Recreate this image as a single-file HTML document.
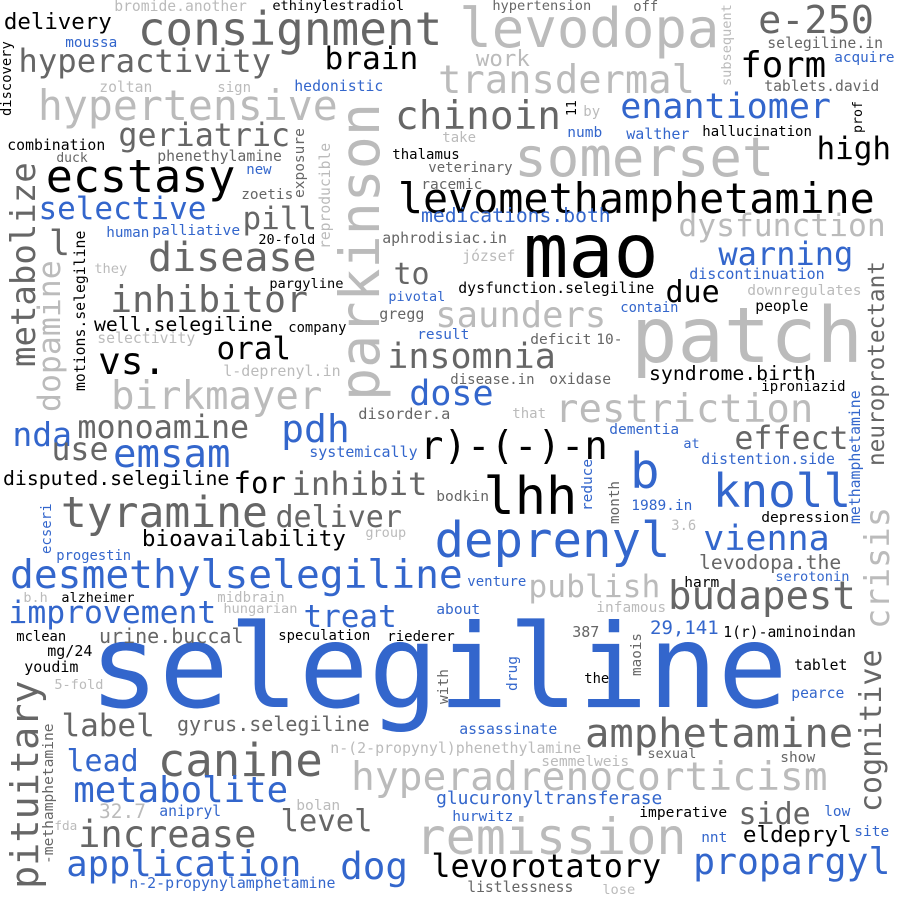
<!DOCTYPE html>
<html><head><meta charset="utf-8"><style>
html,body{margin:0;padding:0;background:#fff}
#c{position:relative;width:900px;height:900px;overflow:hidden;background:#fff;font-family:"DejaVu Sans Mono","Liberation Mono",monospace}
#c span{position:absolute;line-height:1;white-space:nowrap}
.K{color:#000}.D{color:#666}.L{color:#bbb}.B{color:#3366cc}
.v{transform-origin:0 0;transform:rotate(-90deg)}
</style></head><body><div id="c">
<span class="B" style="left:calc(95px - .05em);top:calc(708px - .846em);font-size:116px">selegiline</span>
<span class="L" style="left:calc(635px - .05em);top:calc(363px - .846em);font-size:77px">patch</span>
<span class="K" style="left:calc(527px - .05em);top:calc(277px - .846em);font-size:75px">mao</span>
<span class="B" style="left:calc(437px - .05em);top:calc(557px - .846em);font-size:49px">deprenyl</span>
<span class="L" style="left:calc(462px - .05em);top:calc(48px - .846em);font-size:54px">levodopa</span>
<span class="L" style="left:calc(517px - .05em);top:calc(177px - .846em);font-size:54px">somerset</span>
<span class="D" style="left:calc(140px - .05em);top:calc(45px - .846em);font-size:46px">consignment</span>
<span class="K" style="left:calc(400px - .05em);top:calc(213px - .846em);font-size:41.7px">levomethamphetamine</span>
<span class="L" style="left:calc(418px - .05em);top:calc(854px - .846em);font-size:50px">remission</span>
<span class="L" style="left:calc(353px - .05em);top:calc(792px - .846em);font-size:39.6px">hyperadrenocorticism</span>
<span class="B" style="left:calc(12px - .05em);top:calc(590px - .846em);font-size:39.6px">desmethylselegiline</span>
<span class="D" style="left:calc(63px - .05em);top:calc(528px - .846em);font-size:43px">tyramine</span>
<span class="D" style="left:calc(160px - .05em);top:calc(777px - .846em);font-size:45.7px">canine</span>
<span class="D" style="left:calc(587px - .05em);top:calc(747px - .846em);font-size:40.5px">amphetamine</span>
<span class="B" style="left:calc(68px - .05em);top:calc(877px - .846em);font-size:35.5px">application</span>
<span class="D" style="left:calc(80px - .05em);top:calc(847px - .846em);font-size:37px">increase</span>
<span class="B" style="left:calc(75px - .05em);top:calc(803px - .846em);font-size:35.7px">metabolite</span>
<span class="B" style="left:calc(342px - .05em);top:calc(880px - .846em);font-size:37.6px">dog</span>
<span class="K" style="left:calc(433px - .05em);top:calc(878px - .846em);font-size:31.8px">levorotatory</span>
<span class="B" style="left:calc(695px - .05em);top:calc(875px - .846em);font-size:36.4px">propargyl</span>
<span class="K" style="left:calc(744px - .05em);top:calc(843px - .846em);font-size:22.6px">eldepryl</span>
<span class="D" style="left:calc(740px - .05em);top:calc(825px - .846em);font-size:30px">side</span>
<span class="D" style="left:calc(282px - .05em);top:calc(833px - .846em);font-size:30.6px">level</span>
<span class="B" style="left:calc(68px - .05em);top:calc(772px - .846em);font-size:30px">lead</span>
<span class="D" style="left:calc(63px - .05em);top:calc(737px - .846em);font-size:31px">label</span>
<span class="D" style="left:calc(178px - .05em);top:calc(731px - .846em);font-size:20px">gyrus.selegiline</span>
<span class="B" style="left:calc(10px - .05em);top:calc(625px - .846em);font-size:31.4px">improvement</span>
<span class="B" style="left:calc(305px - .05em);top:calc(628px - .846em);font-size:31px">treat</span>
<span class="D" style="left:calc(100px - .05em);top:calc(643px - .846em);font-size:20px">urine.buccal</span>
<span class="K" style="left:calc(279px - .05em);top:calc(642px - .846em);font-size:13.9px">speculation</span>
<span class="K" style="left:calc(388px - .05em);top:calc(642px - .846em);font-size:14px">riederer</span>
<span class="K" style="left:calc(17px - .05em);top:calc(643px - .846em);font-size:13.8px">mclean</span>
<span class="K" style="left:calc(48px - .05em);top:calc(657px - .846em);font-size:15px">mg/24</span>
<span class="K" style="left:calc(25px - .05em);top:calc(673px - .846em);font-size:15px">youdim</span>
<span class="L" style="left:calc(55px - .05em);top:calc(691px - .846em);font-size:13.6px">5-fold</span>
<span class="L" style="left:calc(224px - .05em);top:calc(615px - .846em);font-size:13.7px">hungarian</span>
<span class="L" style="left:calc(331px - .05em);top:calc(754px - .846em);font-size:14.9px">n-(2-propynyl)phenethylamine</span>
<span class="L" style="left:calc(297px - .05em);top:calc(811px - .846em);font-size:14.6px">bolan</span>
<span class="L" style="left:calc(100px - .05em);top:calc(818px - .846em);font-size:19.5px">32.7</span>
<span class="B" style="left:calc(160px - .05em);top:calc(817px - .846em);font-size:14.7px">anipryl</span>
<span class="L" style="left:calc(55px - .05em);top:calc(831px - .846em);font-size:12.7px">fda</span>
<span class="B" style="left:calc(130px - .05em);top:calc(889px - .846em);font-size:14.9px">n-2-propynylamphetamine</span>
<span class="B" style="left:calc(437px - .05em);top:calc(805px - .846em);font-size:17.9px">glucuronyltransferase</span>
<span class="B" style="left:calc(453px - .05em);top:calc(822px - .846em);font-size:14.5px">hurwitz</span>
<span class="K" style="left:calc(640px - .05em);top:calc(818px - .846em);font-size:14.6px">imperative</span>
<span class="B" style="left:calc(702px - .05em);top:calc(843px - .846em);font-size:14.4px">nnt</span>
<span class="B" style="left:calc(825px - .05em);top:calc(817px - .846em);font-size:14.4px">low</span>
<span class="B" style="left:calc(855px - .05em);top:calc(837px - .846em);font-size:14.5px">site</span>
<span class="D" style="left:calc(468px - .05em);top:calc(893px - .846em);font-size:14.7px">listlessness</span>
<span class="L" style="left:calc(603px - .05em);top:calc(896px - .846em);font-size:13.7px">lose</span>
<span class="L" style="left:calc(542px - .05em);top:calc(767px - .846em);font-size:14.6px">semmelweis</span>
<span class="D" style="left:calc(648px - .05em);top:calc(760px - .846em);font-size:13.6px">sexual</span>
<span class="D" style="left:calc(781px - .05em);top:calc(763px - .846em);font-size:14.5px">show</span>
<span class="B" style="left:calc(460px - .05em);top:calc(736px - .846em);font-size:14.8px">assassinate</span>
<span class="B" style="left:calc(792px - .05em);top:calc(699px - .846em);font-size:14.7px">pearce</span>
<span class="K" style="left:calc(795px - .05em);top:calc(671px - .846em);font-size:14.7px">tablet</span>
<span class="K" style="left:calc(585px - .05em);top:calc(685px - .846em);font-size:13.8px">the</span>
<span class="D" style="left:calc(573px - .05em);top:calc(638px - .846em);font-size:15px">387</span>
<span class="B" style="left:calc(651px - .05em);top:calc(635px - .846em);font-size:19px">29,141</span>
<span class="K" style="left:calc(724px - .05em);top:calc(638px - .846em);font-size:14.7px">1(r)-aminoindan</span>
<span class="L" style="left:calc(597px - .05em);top:calc(613px - .846em);font-size:14.5px">infamous</span>
<span class="D" style="left:calc(670px - .05em);top:calc(610px - .846em);font-size:39px">budapest</span>
<span class="B" style="left:calc(437px - .05em);top:calc(615px - .846em);font-size:14.6px">about</span>
<span class="D" style="left:calc(700px - .05em);top:calc(570px - .846em);font-size:19.7px">levodopa.the</span>
<span class="B" style="left:calc(776px - .05em);top:calc(583px - .846em);font-size:13.7px">serotonin</span>
<span class="K" style="left:calc(685px - .05em);top:calc(588px - .846em);font-size:14.5px">harm</span>
<span class="L" style="left:calc(530px - .05em);top:calc(598px - .846em);font-size:31.3px">publish</span>
<span class="B" style="left:calc(468px - .05em);top:calc(587px - .846em);font-size:14px">venture</span>
<span class="B" style="left:calc(705px - .05em);top:calc(552px - .846em);font-size:35px">vienna</span>
<span class="K" style="left:calc(762px - .05em);top:calc(523px - .846em);font-size:14.6px">depression</span>
<span class="L" style="left:calc(672px - .05em);top:calc(532px - .846em);font-size:13.8px">3.6</span>
<span class="B" style="left:calc(632px - .05em);top:calc(511px - .846em);font-size:14.5px">1989.in</span>
<span class="B" style="left:calc(715px - .05em);top:calc(507px - .846em);font-size:46px">knoll</span>
<span class="B" style="left:calc(630px);top:calc(488px - .846em);font-size:49px">b</span>
<span class="B" style="left:calc(702px - .05em);top:calc(466px - .846em);font-size:14.8px">distention.side</span>
<span class="B" style="left:calc(684px - .05em);top:calc(449px - .846em);font-size:13.5px">at</span>
<span class="B" style="left:calc(610px - .05em);top:calc(435px - .846em);font-size:14.5px">dementia</span>
<span class="D" style="left:calc(736px - .05em);top:calc(451px - .846em);font-size:31.6px">effect</span>
<span class="L" style="left:calc(557px - .05em);top:calc(423px - .846em);font-size:39px">restriction</span>
<span class="L" style="left:calc(513px - .05em);top:calc(419px - .846em);font-size:14px">that</span>
<span class="K" style="left:calc(422px - .05em);top:calc(460px - .846em);font-size:39px">r)-(-)-n</span>
<span class="K" style="left:calc(486px - .05em);top:calc(515px - .846em);font-size:52px">lhh</span>
<span class="D" style="left:calc(437px - .05em);top:calc(502px - .846em);font-size:14.6px">bodkin</span>
<span class="L" style="left:calc(366px - .05em);top:calc(539px - .846em);font-size:13.6px">group</span>
<span class="K" style="left:calc(762px - .05em);top:calc(392px - .846em);font-size:14px">iproniazid</span>
<span class="K" style="left:calc(650px - .05em);top:calc(381px - .846em);font-size:19.8px">syndrome.birth</span>
<span class="K" style="left:calc(756px - .05em);top:calc(312px - .846em);font-size:14.7px">people</span>
<span class="B" style="left:calc(621px - .05em);top:calc(314px - .846em);font-size:13.8px">contain</span>
<span class="L" style="left:calc(437px - .05em);top:calc(328px - .846em);font-size:35.5px">saunders</span>
<span class="D" style="left:calc(531px - .05em);top:calc(345px - .846em);font-size:14.5px">deficit</span>
<span class="D" style="left:calc(597px - .05em);top:calc(345px - .846em);font-size:14.5px">10-</span>
<span class="D" style="left:calc(389px - .05em);top:calc(370px - .846em);font-size:35px">insomnia</span>
<span class="D" style="left:calc(451px - .05em);top:calc(385px - .846em);font-size:14px">disease.in</span>
<span class="D" style="left:calc(550px - .05em);top:calc(385px - .846em);font-size:14.7px">oxidase</span>
<span class="B" style="left:calc(411px - .05em);top:calc(407px - .846em);font-size:35px">dose</span>
<span class="D" style="left:calc(359px - .05em);top:calc(420px - .846em);font-size:15.3px">disorder.a</span>
<span class="B" style="left:calc(418px - .05em);top:calc(340px - .846em);font-size:14.4px">result</span>
<span class="D" style="left:calc(380px - .05em);top:calc(320px - .846em);font-size:15px">gregg</span>
<span class="B" style="left:calc(389px - .05em);top:calc(302px - .846em);font-size:13.5px">pivotal</span>
<span class="D" style="left:calc(112px - .05em);top:calc(313px - .846em);font-size:36.5px">inhibitor</span>
<span class="K" style="left:calc(95px - .05em);top:calc(332px - .846em);font-size:19.8px">well.selegiline</span>
<span class="K" style="left:calc(289px - .05em);top:calc(334px - .846em);font-size:13.8px">company</span>
<span class="L" style="left:calc(98px - .05em);top:calc(345px - .846em);font-size:14.8px">selectivity</span>
<span class="K" style="left:calc(218px - .05em);top:calc(360px - .846em);font-size:31px">oral</span>
<span class="K" style="left:calc(100px - .05em);top:calc(375px - .846em);font-size:37.6px">vs.</span>
<span class="L" style="left:calc(224px - .05em);top:calc(377px - .846em);font-size:15px">l-deprenyl.in</span>
<span class="L" style="left:calc(113px - .05em);top:calc(410px - .846em);font-size:39px">birkmayer</span>
<span class="B" style="left:calc(14px - .05em);top:calc(446px - .846em);font-size:33px">nda</span>
<span class="D" style="left:calc(79px - .05em);top:calc(440px - .846em);font-size:31.7px">monoamine</span>
<span class="B" style="left:calc(283px - .05em);top:calc(442px - .846em);font-size:38px">pdh</span>
<span class="D" style="left:calc(53px - .05em);top:calc(462px - .846em);font-size:31.6px">use</span>
<span class="B" style="left:calc(115px - .05em);top:calc(468px - .846em);font-size:39px">emsam</span>
<span class="B" style="left:calc(310px - .05em);top:calc(458px - .846em);font-size:15px">systemically</span>
<span class="K" style="left:calc(4px - .05em);top:calc(486px - .846em);font-size:19.8px">disputed.selegiline</span>
<span class="K" style="left:calc(235px - .05em);top:calc(494px - .846em);font-size:29px">for</span>
<span class="D" style="left:calc(293px - .05em);top:calc(495px - .846em);font-size:32.3px">inhibit</span>
<span class="D" style="left:calc(277px - .05em);top:calc(528px - .846em);font-size:30px">deliver</span>
<span class="K" style="left:calc(143px - .05em);top:calc(547px - .846em);font-size:22.6px">bioavailability</span>
<span class="B" style="left:calc(57px - .05em);top:calc(562px - .846em);font-size:13.8px">progestin</span>
<span class="K" style="left:calc(62px - .05em);top:calc(603px - .846em);font-size:13.5px">alzheimer</span>
<span class="L" style="left:calc(24px - .05em);top:calc(603px - .846em);font-size:13.5px">b.h</span>
<span class="L" style="left:calc(218px - .05em);top:calc(603px - .846em);font-size:14px">midbrain</span>
<span class="L" style="left:calc(115px - .05em);top:calc(12px - .846em);font-size:14.7px">bromide.another</span>
<span class="K" style="left:calc(273px - .05em);top:calc(12px - .846em);font-size:13.7px">ethinylestradiol</span>
<span class="D" style="left:calc(493px - .05em);top:calc(12px - .846em);font-size:13.7px">hypertension</span>
<span class="D" style="left:calc(634px - .05em);top:calc(13px - .846em);font-size:13.8px">off</span>
<span class="K" style="left:calc(5px - .05em);top:calc(30px - .846em);font-size:22.4px">delivery</span>
<span class="B" style="left:calc(66px - .05em);top:calc(48px - .846em);font-size:14.4px">moussa</span>
<span class="D" style="left:calc(20px - .05em);top:calc(72px - .846em);font-size:32.3px">hyperactivity</span>
<span class="K" style="left:calc(326px - .05em);top:calc(70px - .846em);font-size:31.2px">brain</span>
<span class="D" style="left:calc(760px - .05em);top:calc(35px - .846em);font-size:38.5px">e-250</span>
<span class="D" style="left:calc(768px - .05em);top:calc(50px - .846em);font-size:14.8px">selegiline.in</span>
<span class="B" style="left:calc(835px - .05em);top:calc(63px - .846em);font-size:14.3px">acquire</span>
<span class="K" style="left:calc(742px - .05em);top:calc(78px - .846em);font-size:35.7px">form</span>
<span class="D" style="left:calc(765px - .05em);top:calc(92px - .846em);font-size:14.7px">tablets.david</span>
<span class="L" style="left:calc(477px - .05em);top:calc(67px - .846em);font-size:22.4px">work</span>
<span class="L" style="left:calc(440px - .05em);top:calc(95px - .846em);font-size:38.8px">transdermal</span>
<span class="L" style="left:calc(100px - .05em);top:calc(93px - .846em);font-size:14.7px">zoltan</span>
<span class="L" style="left:calc(218px - .05em);top:calc(93px - .846em);font-size:14px">sign</span>
<span class="B" style="left:calc(295px - .05em);top:calc(93px - .846em);font-size:14.8px">hedonistic</span>
<span class="L" style="left:calc(40px - .05em);top:calc(120px - .846em);font-size:41.5px">hypertensive</span>
<span class="D" style="left:calc(397px - .05em);top:calc(130px - .846em);font-size:39.4px">chinoin</span>
<span class="B" style="left:calc(622px - .05em);top:calc(120px - .846em);font-size:35px">enantiomer</span>
<span class="L" style="left:calc(584px - .05em);top:calc(117px - .846em);font-size:14px">by</span>
<span class="B" style="left:calc(568px - .05em);top:calc(138px - .846em);font-size:14.5px">numb</span>
<span class="B" style="left:calc(627px - .05em);top:calc(140px - .846em);font-size:15px">walther</span>
<span class="K" style="left:calc(703px - .05em);top:calc(137px - .846em);font-size:14px">hallucination</span>
<span class="K" style="left:calc(818px - .05em);top:calc(160px - .846em);font-size:31px">high</span>
<span class="L" style="left:calc(443px - .05em);top:calc(143px - .846em);font-size:14px">take</span>
<span class="K" style="left:calc(393px - .05em);top:calc(160px - .846em);font-size:14px">thalamus</span>
<span class="D" style="left:calc(429px - .05em);top:calc(173px - .846em);font-size:14px">veterinary</span>
<span class="D" style="left:calc(422px - .05em);top:calc(190px - .846em);font-size:14.5px">racemic</span>
<span class="D" style="left:calc(120px - .05em);top:calc(148px - .846em);font-size:31.7px">geriatric</span>
<span class="K" style="left:calc(8px - .05em);top:calc(152px - .846em);font-size:14.8px">combination</span>
<span class="D" style="left:calc(57px - .05em);top:calc(163px - .846em);font-size:13px">duck</span>
<span class="D" style="left:calc(158px - .05em);top:calc(163px - .846em);font-size:14.8px">phenethylamine</span>
<span class="K" style="left:calc(48px - .05em);top:calc(192px - .846em);font-size:45px">ecstasy</span>
<span class="B" style="left:calc(247px - .05em);top:calc(175px - .846em);font-size:14px">new</span>
<span class="D" style="left:calc(242px - .05em);top:calc(200px - .846em);font-size:14.4px">zoetis</span>
<span class="B" style="left:calc(40px - .05em);top:calc(220px - .846em);font-size:31px">selective</span>
<span class="D" style="left:calc(244px - .05em);top:calc(230px - .846em);font-size:31px">pill</span>
<span class="B" style="left:calc(107px - .05em);top:calc(238px - .846em);font-size:14.3px">human</span>
<span class="B" style="left:calc(153px - .05em);top:calc(236px - .846em);font-size:14.6px">palliative</span>
<span class="K" style="left:calc(259px - .05em);top:calc(245px - .846em);font-size:13.5px">20-fold</span>
<span class="B" style="left:calc(422px - .05em);top:calc(223px - .846em);font-size:19.7px">medications.both</span>
<span class="D" style="left:calc(383px - .05em);top:calc(245px - .846em);font-size:14.8px">aphrodisiac.in</span>
<span class="L" style="left:calc(680px - .05em);top:calc(237px - .846em);font-size:31.3px">dysfunction</span>
<span class="L" style="left:calc(463px - .05em);top:calc(262px - .846em);font-size:14.7px">józsef</span>
<span class="B" style="left:calc(720px - .05em);top:calc(265px - .846em);font-size:32px">warning</span>
<span class="B" style="left:calc(690px - .05em);top:calc(280px - .846em);font-size:15px">discontinuation</span>
<span class="L" style="left:calc(748px - .05em);top:calc(296px - .846em);font-size:14.6px">downregulates</span>
<span class="K" style="left:calc(459px - .05em);top:calc(295px - .846em);font-size:14.8px">dysfunction.selegiline</span>
<span class="K" style="left:calc(667px - .05em);top:calc(303px - .846em);font-size:30px">due</span>
<span class="D" style="left:calc(395px - .05em);top:calc(285px - .846em);font-size:30px">to</span>
<span class="D" style="left:calc(150px - .05em);top:calc(272px - .846em);font-size:40px">disease</span>
<span class="L" style="left:calc(95px - .05em);top:calc(275px - .846em);font-size:13.7px">they</span>
<span class="K" style="left:calc(270px - .05em);top:calc(290px - .846em);font-size:13.7px">pargyline</span>
<span class="D" style="left:calc(49px);top:calc(257px - .846em);font-size:35px">l</span>

<span class="L v" style="left:calc(380px - .846em);top:calc(398px + .05em);font-size:55px">parkinson</span>
<span class="D v" style="left:calc(36px - .846em);top:calc(365px + .05em);font-size:34px">metabolize</span>
<span class="L v" style="left:calc(62px - .846em);top:calc(410px + .05em);font-size:31.5px">dopamine</span>
<span class="K v" style="left:calc(87px - .846em);top:calc(390px + .05em);font-size:14.8px">motions.selegiline</span>
<span class="K v" style="left:calc(13px - .846em);top:calc(115px + .05em);font-size:13.8px">discovery</span>
<span class="D v" style="left:calc(305px - .846em);top:calc(197px + .05em);font-size:14.5px">exposure</span>
<span class="L v" style="left:calc(331px - .846em);top:calc(248px + .05em);font-size:14.7px">reproducible</span>
<span class="L v" style="left:calc(733px - .846em);top:calc(85px + .05em);font-size:13.6px">subsequent</span>
<span class="K v" style="left:calc(577px - .846em);top:calc(115px + .05em);font-size:13px">11</span>
<span class="K v" style="left:calc(863px - .846em);top:calc(132px + .05em);font-size:13.3px">prof</span>
<span class="D v" style="left:calc(885px - .846em);top:calc(465px + .05em);font-size:22.7px">neuroprotectant</span>
<span class="B v" style="left:calc(862px - .846em);top:calc(523px + .05em);font-size:14.8px">methamphetamine</span>
<span class="L v" style="left:calc(890px - .846em);top:calc(627px + .05em);font-size:33.8px">crisis</span>
<span class="D v" style="left:calc(882px - .846em);top:calc(810px + .05em);font-size:30px">cognitive</span>
<span class="B v" style="left:calc(593px - .846em);top:calc(510px + .05em);font-size:14.4px">reduce</span>
<span class="D v" style="left:calc(620px - .846em);top:calc(523px + .05em);font-size:14.3px">month</span>
<span class="B v" style="left:calc(52px - .846em);top:calc(553px + .05em);font-size:14px">ecseri</span>
<span class="D v" style="left:calc(40px - .846em);top:calc(887px + .05em);font-size:38.5px">pituitary</span>
<span class="D v" style="left:calc(54px - .846em);top:calc(863px + .05em);font-size:14.6px">-methamphetamine</span>
<span class="B v" style="left:calc(518px - .846em);top:calc(690px + .05em);font-size:14.5px">drug</span>
<span class="D v" style="left:calc(642px - .846em);top:calc(675px + .05em);font-size:14.3px">maois</span>
<span class="D v" style="left:calc(449px - .846em);top:calc(703px + .05em);font-size:14.5px">with</span>
</div></body></html>
